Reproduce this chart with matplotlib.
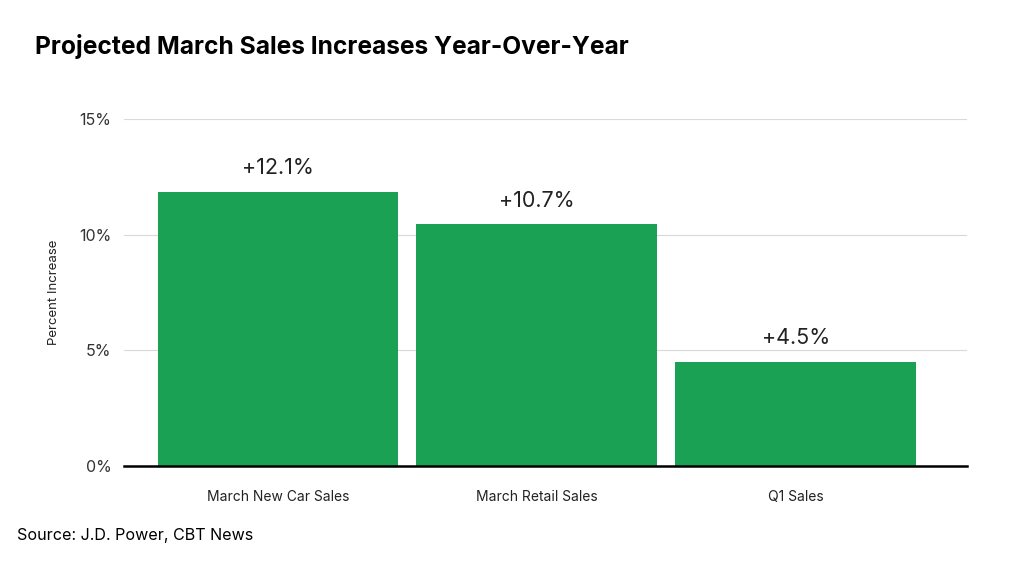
import matplotlib.pyplot as plt
from matplotlib.ticker import FuncFormatter

categories = ['March New Car Sales', 'March Retail Sales', 'Q1 Sales']
# bar heights as drawn in the picture, labels as printed
values = [11.87, 10.46, 4.51]
value_labels = ['+12.1%', '+10.7%', '+4.5%']
yticks = [0, 5, 10, 15]

plt.rcParams['font.family'] = ['Inter', 'DejaVu Sans']

fig = plt.figure(figsize=(10.24, 5.65), dpi=100)
ax = fig.add_axes([0.121, 0.175, 0.823, 0.614])

bars = ax.bar(range(len(categories)), values, width=0.93, color='#1ba153', zorder=3)

for bar, lab in zip(bars, value_labels):
    ax.annotate(lab, (bar.get_x() + bar.get_width() / 2, bar.get_height()),
                xytext=(0, 17), textcoords='offset points',
                ha='center', va='center', fontsize=15.5, color='#222222')

ax.set_xlim(-0.595, 2.66)
ax.set_ylim(0, 15)
ax.set_yticks(yticks)
ax.yaxis.set_major_formatter(FuncFormatter(lambda v, p: f'{v:.0f}%'))
ax.set_xticks(range(len(categories)))
ax.set_xticklabels(categories, fontsize=10, color='#222222')
ax.tick_params(axis='y', length=0, labelsize=11.5, pad=9, labelcolor='#333333')
ax.tick_params(axis='x', length=0, pad=17)
ax.grid(axis='y', color='#d9d9d9', linewidth=0.8, zorder=0)

for side in ['top', 'right', 'left']:
    ax.spines[side].set_visible(False)
ax.spines['bottom'].set_color('black')
ax.spines['bottom'].set_linewidth(1.8)
ax.spines['bottom'].set_zorder(4)

ax.set_ylabel('Percent Increase', fontsize=9.5, color='#222222', labelpad=14)

fig.text(0.034, 0.918, 'Projected March Sales Increases Year-Over-Year',
         fontsize=17.7, fontweight='bold', va='center', ha='left', color='black')
fig.text(0.017, 0.052, 'Source: J.D. Power, CBT News',
         fontsize=11.6, va='center', ha='left', color='black')

fig.savefig('out.png', dpi=100)
